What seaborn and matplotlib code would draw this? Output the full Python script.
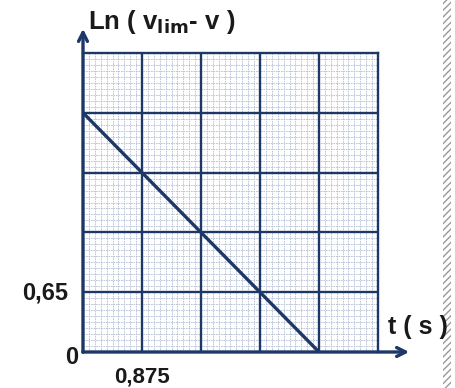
import numpy as np
import pandas as pd
import seaborn as sns
import matplotlib
matplotlib.use("Agg")
from matplotlib import pyplot as plt
from matplotlib.patches import Rectangle

sns.set_style("white")
plt.rcParams['font.family'] = ['Liberation Sans', 'DejaVu Sans']

# data
t_vals = [0.0, 3.5]
ln_vals = [2.6, 0.0]
x_step = 0.875
y_step = 0.65
n_major = 5

navy = "#1d3766"
minor_col = "#b4bfd4"

df = pd.DataFrame({"t": t_vals, "ln": ln_vals})

fig = plt.figure(figsize=(4.56, 3.88), dpi=100)
ax = fig.add_axes([83 / 456, 36 / 388, 295 / 456, 299 / 388])

xmax = x_step * n_major
ymax = y_step * n_major
ax.set_xlim(0, xmax)
ax.set_ylim(0, ymax)

# graph paper: fine grid via ticks, heavy lines on top
ax.set_xticks(np.arange(0, xmax + 1e-9, x_step / 10))
ax.set_yticks(np.arange(0, ymax + 1e-9, y_step / 10))
ax.grid(color=minor_col, lw=0.6, ls=(0, (2, 1)))
ax.tick_params(length=0, labelbottom=False, labelleft=False)
for k in range(1, n_major):
    ax.axvline(k * x_step, color=navy, lw=1.7, zorder=1)
    ax.axhline(k * y_step, color=navy, lw=1.7, zorder=1)
for s in ["top", "right"]:
    ax.spines[s].set_color(navy)
    ax.spines[s].set_linewidth(1.7)
for s in ["left", "bottom"]:
    ax.spines[s].set_visible(False)
ax.set_axisbelow(True)

sns.lineplot(data=df, x="t", y="ln", ax=ax, color=navy, lw=2.4, zorder=3)
ax.set_xlabel("")
ax.set_ylabel("")

# axes with arrows
ax.annotate("", xy=(412 / 456, 36 / 388), xytext=(80 / 456, 36 / 388),
            xycoords="figure fraction", textcoords="figure fraction",
            arrowprops=dict(arrowstyle="->", color=navy, lw=2.4, mutation_scale=16))
ax.annotate("", xy=(83 / 456, 362 / 388), xytext=(83 / 456, 33 / 388),
            xycoords="figure fraction", textcoords="figure fraction",
            arrowprops=dict(arrowstyle="->", color=navy, lw=2.4, mutation_scale=16))

txt = "#1a1a1a"
fw = "bold"
fig.text(88 / 456, 1 - 22 / 388, r"Ln ( v$_{\mathbf{lim}}$- v )", fontsize=18.5,
         color=txt, va="center", ha="left", fontweight=fw)
fig.text(388 / 456, 1 - 327 / 388, "t ( s )", fontsize=18, color=txt,
         va="center", ha="left", fontweight=fw)
fig.text(68 / 456, 1 - 293 / 388, "0,65", fontsize=17, color=txt,
         va="center", ha="right", fontweight=fw)
fig.text(72 / 456, 1 - 358 / 388, "0", fontsize=17, color=txt,
         va="center", ha="center", fontweight=fw)
fig.text(142 / 456, 1 - 377 / 388, "0,875", fontsize=16, color=txt,
         va="center", ha="center", fontweight=fw)

# hatched page edge on the right
fig.patches.append(Rectangle((443 / 456, 0), 8 / 456, 1, transform=fig.transFigure,
                             facecolor="white", edgecolor="#9a9a9a", hatch="/////",
                             lw=0))

fig.savefig("out.png", dpi=100)
